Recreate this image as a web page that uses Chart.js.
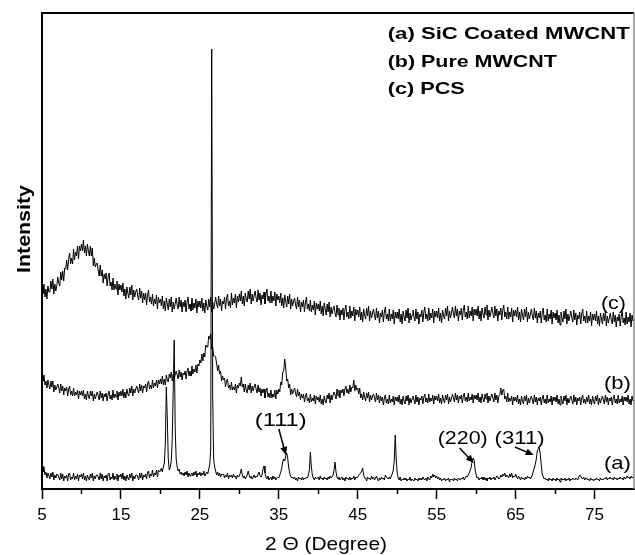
<!DOCTYPE html>
<html>
<head>
<meta charset="utf-8">
<script src="https://cdn.jsdelivr.net/npm/chart.js@4.4.0/dist/chart.umd.min.js"></script>
<style>
  html, body { margin: 0; padding: 0; background: #fff; }
  #wrap { width: 635px; height: 555px; }
</style>
</head>
<body>
<div id="wrap"><canvas id="xrdChart"></canvas></div>
<script>
// 2 theta grid of the scans (degrees), 8 readings per degree
const startAngle = 5;
const angleStep = 0.125;

// (a) SiC coated MWCNT - 8 values per degree, 5 .. 79, then 80
const traceA = [
  23,17,22,14,17,11,16,13,  10,16,12,17,9,14,11,15,  14,12,9,16,10,15,8,13,  11,14,8,15,16,9,12,10,
  16,9,13,10,15,8,14,12,  15,10,16,9,13,8,14,11,  9,15,11,16,8,13,10,14,  14,12,9,16,10,15,8,13,
  11,14,8,15,16,9,12,10,  16,9,13,10,15,8,14,12,  15,10,16,9,13,8,14,11,  9,15,11,16,8,13,10,14,
  14,12,9,16,11,16,9,14,  12,15,10,17,18,11,15,13,  19,12,16,14,19,12,19,17,
  18,21,17,22,26,45,102,70,  30,19,22,28,50,100,149,60,  30,22,18,20,15,17,14,16,
  13,17,14,18,12,16,13,15,  16,13,17,14,18,12,16,14,  17,13,16,14,18,13,15,17,
  15,20,24,40,440,90,30,22,  18,14,17,13,16,12,15,14,  15,11,14,12,16,10,14,12,
  14,11,15,12,13,10,14,12,  13,16,20,14,11,13,10,12,  14,18,14,11,13,10,12,14,
  11,13,12,15,17,13,12,14,  20,23,16,12,10,13,9,11,  12,9,13,10,12,9,11,12,
  11,14,17,21,27,30,28,33,  36,31,22,16,13,11,12,10,  12,9,11,8,12,10,11,9,
  12,9,11,10,12,11,14,19,  37,22,14,11,9,12,10,11,  12,9,13,10,11,9,12,10,
  11,9,12,10,13,11,12,14,  19,27,17,12,10,12,9,11,  12,9,11,8,12,10,11,9,
  12,9,11,10,13,9,12,11,  12,14,15,16,18,21,14,11,  11,8,12,10,11,9,13,10,
  12,9,11,13,10,8,11,9,  12,10,11,9,14,12,11,10,  12,10,13,15,19,28,54,30,
  16,11,9,12,8,10,9,11,  9,11,8,10,9,12,8,10,  10,8,11,9,10,8,11,9,
  11,9,12,10,9,11,8,12,  10,9,13,11,15,12,14,11,  13,10,12,9,11,8,10,9,
  11,8,10,9,11,7,10,9,  10,8,11,9,10,8,11,10,  9,11,10,12,9,11,13,12,
  14,16,19,22,28,31,29,19,  14,11,12,9,11,10,12,9,  12,9,11,8,11,10,12,9,
  11,10,12,9,11,13,12,10,  11,14,12,15,13,16,12,14,  13,11,15,12,16,11,13,12,
  15,12,10,13,11,9,12,10,  11,9,12,10,13,11,12,10,  12,14,18,21,25,30,38,40,
  41,35,24,15,12,10,11,9,  10,8,11,9,10,8,11,9,  10,8,11,9,10,7,11,9,
  10,9,11,8,10,9,11,8,  10,9,11,10,9,11,10,9,  12,14,13,11,10,12,9,11,
  11,9,10,8,11,9,10,8,  10,9,11,9,10,8,11,9,  10,9,11,10,12,9,11,10,
  12,10,11,9,12,10,11,9,  11,10,12,10,11,9,12,10,  11,13,11,12,10,13,11,12,
  12
];

// (b) pure MWCNT
const traceB = [
  114,108,114,104,108,101,109,104,  100,108,102,108,97,104,99,102,  105,101,96,105,98,103,94,101,
  98,102,93,100,103,94,98,93,  101,93,97,94,99,90,98,94,  98,93,99,90,95,89,98,93,
  90,98,93,98,88,95,90,94,  97,93,89,98,91,96,88,95,  92,96,88,95,98,90,94,89,
  99,91,95,92,98,89,97,93,  98,93,100,91,97,91,100,95,  93,101,96,103,93,100,96,100,
  103,99,96,105,98,104,96,103,  101,105,97,105,108,100,104,100,  109,101,106,103,109,101,109,105,
  110,105,113,104,110,104,114,109,  107,115,111,117,108,115,110,115,  118,114,110,119,112,117,109,116,
  114,118,110,118,121,113,118,113,  123,115,120,117,124,116,125,123,  129,126,135,128,136,132,144,142,
  142,153,150,155,140,142,133,133,  132,125,118,124,115,118,108,113,  109,111,102,108,110,101,104,99,
  107,99,102,99,105,96,104,101,  106,103,112,102,105,97,105,99,  96,104,99,106,96,103,98,102,
  105,100,96,104,97,101,93,100,  96,100,91,98,101,92,96,91,  99,91,95,92,99,90,99,95,
  100,97,107,104,117,118,130,121,  108,110,101,105,94,100,95,98,  101,96,92,100,93,97,89,95,
  91,95,87,93,96,88,91,86,  95,87,91,88,94,85,93,89,  92,87,94,85,90,84,93,88,
  86,94,90,96,86,94,89,94,  97,94,90,100,93,99,91,99,  96,100,93,100,103,96,100,95,
  104,97,102,101,109,98,104,99,  101,95,101,91,95,89,97,92,  88,96,91,97,87,94,89,93,
  95,91,87,96,89,94,86,93,  88,92,84,91,94,86,90,85,  94,86,90,87,93,84,92,88,
  92,87,94,85,90,84,93,88,  85,93,88,94,84,91,86,90,  93,89,85,94,87,92,84,91,
  89,93,85,92,95,87,91,86,  95,87,91,88,94,85,93,89,  93,88,95,86,91,85,94,89,
  86,94,89,95,85,92,87,91,  95,91,87,96,89,94,86,93,  90,94,86,93,96,88,92,87,
  96,88,92,89,95,86,94,90,  94,89,96,87,92,86,95,90,  87,95,90,96,86,93,88,92,
  95,91,87,96,89,94,86,93,  94,101,94,99,100,90,93,87,  96,87,91,88,93,84,92,88,
  92,87,94,85,90,84,93,88,  85,93,88,94,84,91,86,90,  93,89,85,94,87,92,84,91,
  88,92,84,91,94,86,90,85,  94,86,90,87,93,84,92,88,  92,87,94,85,90,84,93,88,
  85,93,88,94,84,91,86,90,  93,89,85,94,87,92,84,91,  88,92,84,91,94,86,90,85,
  92,87,94,85,90,84,93,88,  85,93,88,94,84,91,86,90,  93,89,85,94,87,92,84,91,
  88,92,84,91,94,86,90,85,  94,86,90,87,93,84,92,88,  92,87,94,85,90,84,93,88,
  89
];

// (c) PCS
const traceC = [
  202,195,205,192,200,190,203,197,  197,208,200,210,195,205,198,203,  212,206,203,217,209,218,208,221,
  220,229,219,230,236,225,231,225,  240,229,237,233,243,230,243,238,  245,238,249,236,243,233,245,238,
  233,243,233,241,223,231,222,225,  226,218,213,224,213,219,206,215,  210,216,203,212,216,203,207,199,
  211,199,205,200,208,194,205,199,  204,197,206,193,200,190,202,196,  191,202,194,204,189,199,192,197,
  200,193,189,201,191,198,186,196,  189,196,184,194,199,187,192,185,  195,183,190,185,194,180,192,186,
  190,183,193,180,188,178,191,185,  179,190,182,192,177,187,180,185,  191,184,180,192,182,189,177,187,
  182,189,177,187,192,180,185,178,  191,179,186,181,190,176,188,182,  188,181,191,178,186,176,189,183,
  179,190,182,192,177,187,180,185,  192,185,181,193,183,190,178,188,  185,192,180,190,195,183,188,181,
  196,184,191,186,195,181,193,187,  195,188,198,185,193,183,196,190,  187,198,190,200,185,195,188,193,
  198,191,187,199,189,196,184,194,  190,197,185,195,200,188,193,186,  198,186,193,188,197,183,195,189,
  193,186,196,183,191,181,194,188,  182,193,185,195,180,190,183,188,  191,184,180,192,182,189,177,187,
  182,189,177,187,192,180,185,178,  189,177,184,179,188,174,186,180,  185,178,188,175,183,173,186,180,
  174,185,177,187,172,182,175,180,  183,176,172,184,174,181,169,179,  174,181,169,179,184,172,177,170,
  183,171,178,173,182,168,180,174,  179,172,182,169,177,167,180,174,  170,181,173,183,168,178,171,176,
  180,173,169,181,171,178,166,176,  172,179,167,177,182,170,175,168,  180,168,175,170,179,165,177,171,
  177,170,180,167,175,165,178,172,  168,179,171,181,166,176,169,174,  179,172,168,180,170,177,165,175,
  172,179,167,177,182,170,175,168,  181,169,176,171,180,166,178,172,  178,171,181,168,176,166,179,173,
  170,181,173,183,168,178,171,176,  182,175,171,183,173,180,168,178,  174,181,169,179,184,172,177,170,
  183,171,178,173,182,168,180,174,  180,173,183,170,178,168,181,175,  171,182,174,184,169,179,172,177,
  182,175,171,183,173,180,168,178,  174,181,169,179,184,172,177,170,  182,170,177,172,181,167,179,173,
  179,172,182,169,177,167,180,174,  169,180,172,182,167,177,170,175,  180,173,169,181,171,178,166,176,
  171,178,166,176,181,169,174,167,  180,168,175,170,179,165,177,171,  176,169,179,166,174,164,177,171,
  167,178,170,180,165,175,168,173,  178,171,167,179,169,176,164,174,  170,177,165,175,180,168,173,166,
  178,166,173,168,177,163,175,169,  175,168,178,165,173,163,176,170,  165,176,168,178,163,173,166,171,
  176,169,165,177,167,174,162,172,  168,175,163,173,178,166,171,164,  177,165,172,167,176,162,174,168,
  170
];

const labeledTicks = [5, 15, 25, 35, 45, 55, 65, 75];
const minorTicks = [10, 20, 30, 40, 50, 60, 70];

const legendLines = ['(a) SiC Coated MWCNT', '(b) Pure MWCNT', '(c) PCS'];
const peakLabels = ['(111)', '(220)', '(311)'];
const traceLabels = ['(a)', '(b)', '(c)'];

// where the texts and arrows sit, in data units (degree, intensity, text width)
const legendSpots = [[48.8, 455, 242], [48.8, 427, 169], [48.8, 400, 77]];
const peakSpots = [[35.25, 68, 52], [58.3, 50, 50], [65.5, 50, 50]];
const peakArrows = [[35.0, 60, 35.9, 34], [57.9, 41, 59.7, 26], [64.9, 42, 67.3, 34]];
const traceSpots = [[77.9, 25, 27], [77.9, 105, 27], [77.4, 185, 25]];
const yTitle = { text: 'Intensity', x: 25, y: 229, length: 88 };
const xTitle = { text: '2 \u0398 (Degree)', x: 326, y: 545, length: 122 };

const FONT = '"Liberation Sans", Arial, Helvetica, sans-serif';

function toPoints(values) {
  return values.map((v, i) => ({ x: startAngle + i * angleStep, y: v }));
}

function stretchedText(ctx, text, x, y, width, align) {
  const w = ctx.measureText(text).width;
  ctx.save();
  ctx.translate(x, y);
  ctx.scale(width / w, 1);
  ctx.textAlign = align;
  ctx.textBaseline = 'middle';
  ctx.fillText(text, 0, 0);
  ctx.restore();
}

const decorations = {
  id: 'decorations',
  afterDatasetsDraw(chart) {
    const ctx = chart.ctx;
    const xs = chart.scales.x, ys = chart.scales.y;
    const area = chart.chartArea;
    ctx.save();
    ctx.fillStyle = '#000';
    ctx.strokeStyle = '#000';

    // legend block
    ctx.font = 'bold 17px ' + FONT;
    legendLines.forEach((t, i) => {
      const s = legendSpots[i];
      stretchedText(ctx, t, xs.getPixelForValue(s[0]), ys.getPixelForValue(s[1]), s[2], 'left');
    });

    // axis titles
    ctx.font = 'bold 18px ' + FONT;
    ctx.save();
    ctx.translate(yTitle.x, yTitle.y);
    ctx.rotate(-Math.PI / 2);
    stretchedText(ctx, yTitle.text, 0, 0, yTitle.length, 'center');
    ctx.restore();
    ctx.font = '19px ' + FONT;
    stretchedText(ctx, xTitle.text, xTitle.x, xTitle.y, xTitle.length, 'center');

    // peak indices and arrows
    peakLabels.forEach((t, i) => {
      const s = peakSpots[i];
      stretchedText(ctx, t, xs.getPixelForValue(s[0]), ys.getPixelForValue(s[1]), s[2], 'center');
      const a = peakArrows[i];
      const x1 = xs.getPixelForValue(a[0]), y1 = ys.getPixelForValue(a[1]);
      const x2 = xs.getPixelForValue(a[2]), y2 = ys.getPixelForValue(a[3]);
      const ang = Math.atan2(y2 - y1, x2 - x1);
      ctx.lineWidth = 1.5;
      ctx.beginPath();
      ctx.moveTo(x1, y1);
      ctx.lineTo(x2 - 6 * Math.cos(ang), y2 - 6 * Math.sin(ang));
      ctx.stroke();
      ctx.beginPath();
      ctx.moveTo(x2, y2);
      ctx.lineTo(x2 - 8 * Math.cos(ang) + 3.5 * Math.sin(ang), y2 - 8 * Math.sin(ang) - 3.5 * Math.cos(ang));
      ctx.lineTo(x2 - 8 * Math.cos(ang) - 3.5 * Math.sin(ang), y2 - 8 * Math.sin(ang) + 3.5 * Math.cos(ang));
      ctx.closePath();
      ctx.fill();
    });

    // trace names on the right
    traceLabels.forEach((t, i) => {
      const s = traceSpots[i];
      stretchedText(ctx, t, xs.getPixelForValue(s[0]), ys.getPixelForValue(s[1]), s[2], 'center');
    });

    // minor ticks below the axis
    ctx.lineWidth = 1.5;
    minorTicks.forEach(v => {
      const px = Math.round(xs.getPixelForValue(v)) + 0.5;
      ctx.beginPath();
      ctx.moveTo(px, area.bottom);
      ctx.lineTo(px, area.bottom + 5);
      ctx.stroke();
    });

    // top and right frame
    ctx.lineWidth = 2;
    ctx.beginPath();
    ctx.moveTo(area.left, area.top);
    ctx.lineTo(area.right, area.top);
    ctx.stroke();
    ctx.strokeStyle = '#888';
    ctx.lineWidth = 1.5;
    ctx.beginPath();
    ctx.moveTo(area.right, area.top);
    ctx.lineTo(area.right, area.bottom);
    ctx.stroke();
    ctx.restore();
  }
};

const lineStyle = {
  borderColor: '#000',
  borderWidth: 1,
  pointRadius: 0,
  fill: false,
  tension: 0
};

new Chart(document.getElementById('xrdChart'), {
  type: 'line',
  data: {
    datasets: [
      Object.assign({ label: '(a) SiC Coated MWCNT', data: toPoints(traceA) }, lineStyle),
      Object.assign({ label: '(b) Pure MWCNT', data: toPoints(traceB) }, lineStyle),
      Object.assign({ label: '(c) PCS', data: toPoints(traceC) }, lineStyle)
    ]
  },
  options: {
    responsive: true,
    maintainAspectRatio: false,
    animation: false,
    layout: { padding: { top: 13, right: 1, left: 0, bottom: 0 } },
    plugins: {
      legend: { display: false },
      tooltip: { enabled: false }
    },
    scales: {
      x: {
        type: 'linear',
        min: 5,
        max: 80,
        afterFit: s => { s.height = 66; s.paddingRight = 0; },
        border: { display: true, color: '#000', width: 2 },
        grid: {
          drawOnChartArea: false,
          tickLength: 10,
          tickWidth: 1.5,
          tickColor: c => (c.tick && labeledTicks.includes(c.tick.value)) ? '#000' : 'rgba(0,0,0,0)'
        },
        ticks: {
          stepSize: 5,
          autoSkip: false,
          maxRotation: 0,
          padding: 6,
          color: '#000',
          font: { family: FONT, size: 17 },
          callback: v => labeledTicks.includes(v) ? String(v) : ''
        },
        title: { display: false }
      },
      y: {
        min: 0,
        max: 476,
        afterFit: s => { s.width = 42; },
        border: { display: true, color: '#000', width: 2 },
        grid: { display: false },
        ticks: { display: false },
        title: { display: false }
      }
    }
  },
  plugins: [decorations]
});
</script>
</body>
</html>
